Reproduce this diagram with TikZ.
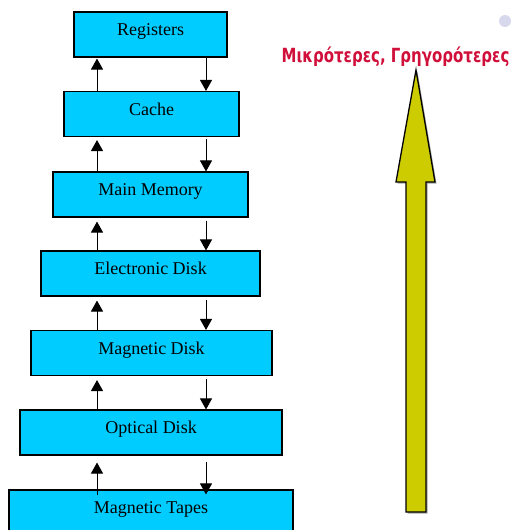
\documentclass[tikz,border=0pt]{standalone}
\usepackage{fontspec}
\setmainfont{Liberation Serif}
\newfontfamily\labelfont{DejaVu Sans}
\usetikzlibrary{arrows.meta}
\definecolor{boxcyan}{RGB}{0,204,255}
\definecolor{oliveyellow}{RGB}{204,204,0}
\definecolor{labelred}{RGB}{208,16,58}
\definecolor{dotgray}{RGB}{216,216,236}
\begin{document}
\begin{tikzpicture}[x=1pt,y=-1pt,
  level/.style={draw=black,line width=1.1pt,fill=boxcyan,inner sep=0pt,
    minimum height=45pt,text height=6pt,text depth=4pt,font=\fontsize{18}{20}\selectfont},
  flow/.style={line width=1pt,-{Triangle[width=12pt,length=11pt]}}]
\useasboundingbox (0,0) rectangle (514,530);

% memory hierarchy levels
\node[level,minimum width=153pt] (reg)  at (150.5,34.5)  {Registers};
\node[level,minimum width=175pt] (cache) at (151.5,114)  {Cache};
\node[level,minimum width=195pt] (mem)  at (150.5,194.5) {Main Memory};
\node[level,minimum width=219pt] (edisk) at (150.5,273.5) {Electronic Disk};
\node[level,minimum width=241pt] (mdisk) at (151.5,353)  {Magnetic Disk};
\node[level,minimum width=262pt] (odisk) at (151,432.5)  {Optical Disk};
\node[level,minimum width=284pt] (tapes) at (151,512.5)  {Magnetic Tapes};

% transfer arrows between neighbouring levels
\coordinate (up) at (97,0);
\coordinate (dn) at (206,0);
\foreach \hi/\lo/\a/\b in {reg/cache/1/0, cache/mem/3/2, mem/edisk/4/3,
                           edisk/mdisk/4/3, mdisk/odisk/4/3}{
  \draw[flow,shorten >=\a pt] (\lo.north -| up) -- (\hi.south -| up);
  \draw[flow,shorten <=\b pt] (\hi.south -| dn) -- (\lo.north -| dn);
}
\draw[flow,shorten <=-6pt,shorten >=7pt] (tapes.north -| up) -- (odisk.south -| up);
\draw[flow,shorten <=6pt,shorten >=-5pt] (odisk.south -| dn) -- (tapes.north -| dn);

% big "smaller, faster" arrow
\coordinate (tip) at (416,70);
\path[fill=gray!70] ([shift={(1.5,1.5)}]tip) -- (436.5,183.5) -- (427.5,183.5) -- (427.5,513.5)
   -- (407.5,513.5) -- (407.5,183.5) -- (397.5,183.5) -- cycle;
\draw[fill=oliveyellow,line width=1.3pt,line join=miter] (tip) -- (435,182) -- (426,182) -- (426,512)
   -- (406,512) -- (406,182) -- (396,182) -- cycle;
\node[font=\labelfont\bfseries\fontsize{15}{17}\selectfont,text=labelred,anchor=base,inner sep=0pt]
   (lbl) at (395.5,62) {\scalebox{1}[1.3]{Μικρότερες, Γρηγορότερες}};

\node[circle,fill=dotgray,inner sep=0pt,minimum size=12pt] (dot) at (505,21) {};
\end{tikzpicture}
\end{document}
